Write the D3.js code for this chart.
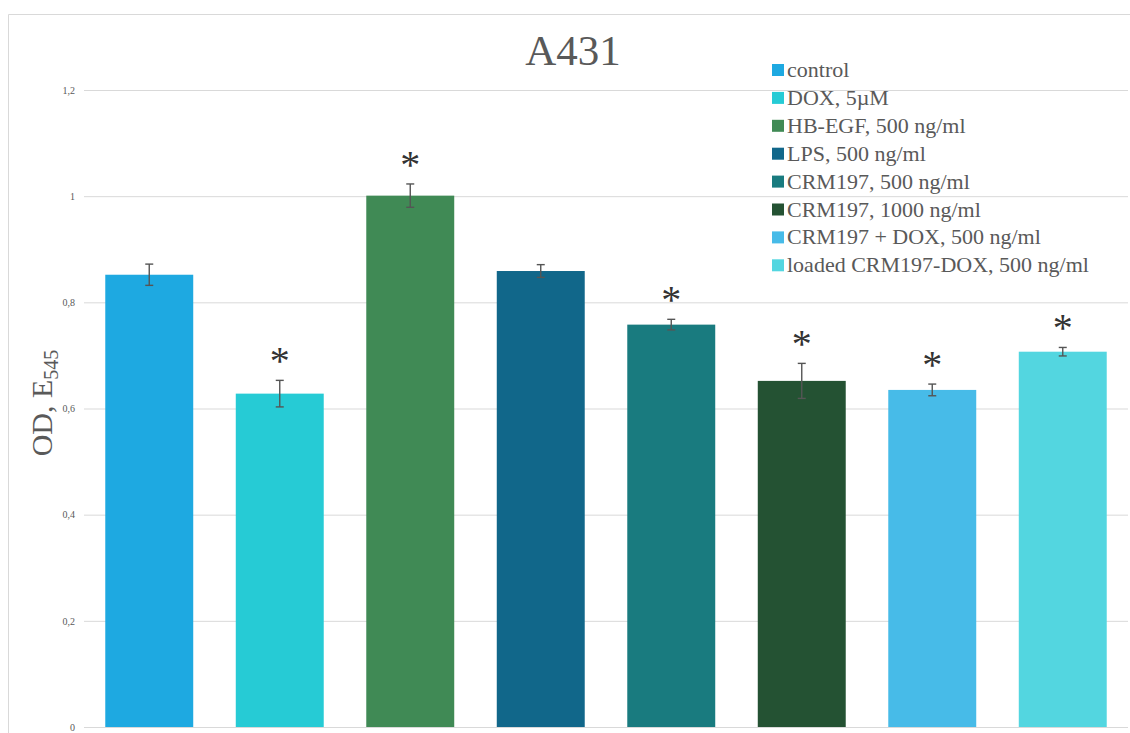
<!DOCTYPE html>
<html>
<head>
<meta charset="utf-8">
<script src="https://cdn.jsdelivr.net/npm/d3@7"></script>
<style>
  html, body { margin: 0; padding: 0; background: #fff; }
  svg { display: block; }
</style>
</head>
<body>
<svg id="chart" width="1130" height="733"></svg>
<script>
// Treatment groups, mean optical density and error half-widths
const categories = [
  "control",
  "DOX, 5\u00b5M",
  "HB-EGF, 500 ng/ml",
  "LPS, 500 ng/ml",
  "CRM197, 500 ng/ml",
  "CRM197, 1000 ng/ml",
  "CRM197 + DOX, 500 ng/ml",
  "loaded CRM197-DOX, 500 ng/ml"
];
const values = [0.852, 0.628, 1.001, 0.859, 0.758, 0.652, 0.635, 0.707];
const errors = [0.020, 0.025, 0.022, 0.012, 0.010, 0.033, 0.011, 0.008];
const significant = [false, true, true, false, true, true, true, true];
const colors = ["#1ea9e1", "#26cbd5", "#408a55", "#11678a", "#197b7f", "#245233", "#47bbe8", "#53d6e0"];
const yTicks = [0, 0.2, 0.4, 0.6, 0.8, 1.0, 1.2];
const yTickLabels = ["0", "0,2", "0,4", "0,6", "0,8", "1", "1,2"];

const svg = d3.select("#chart");
const W = 1130, H = 733;
const margin = { left: 84, right: 2, top: 90, bottom: 6 };
const serif = "'Liberation Serif', 'Times New Roman', serif";
const textColor = "#595959";

// Outer frame (left and top edges visible)
svg.append("path")
  .attr("d", `M8.5,${H} L8.5,14.5 L${W},14.5`)
  .attr("fill", "none")
  .attr("stroke", "#d9d9d9")
  .attr("stroke-width", 1);

const x = d3.scaleBand()
  .domain(categories)
  .range([margin.left, W - margin.right])
  .paddingInner(0.326)
  .paddingOuter(0.163);

const y = d3.scaleLinear()
  .domain([0, 1.2])
  .range([727, 90]);

// Horizontal gridlines + tick labels
const yAxis = d3.axisLeft(y)
  .tickValues(yTicks)
  .tickFormat((d, i) => yTickLabels[i])
  .tickSize(-(W - margin.right - margin.left))
  .tickPadding(9);

const gAxis = svg.append("g")
  .attr("transform", `translate(${margin.left},0)`)
  .call(yAxis);
gAxis.select(".domain").remove();
gAxis.selectAll(".tick line").attr("stroke", "#d9d9d9").attr("stroke-width", 1);
gAxis.selectAll(".tick text")
  .attr("fill", textColor)
  .style("font-family", serif)
  .style("font-size", "10px");

// Bars
svg.append("g").selectAll("rect")
  .data(categories)
  .join("rect")
  .attr("x", d => x(d))
  .attr("width", x.bandwidth())
  .attr("y", (d, i) => y(values[i]))
  .attr("height", (d, i) => y(0) - y(values[i]))
  .attr("fill", (d, i) => colors[i]);

// Error bars
const eb = svg.append("g").attr("stroke", "#555").attr("stroke-width", 1.4);
categories.forEach((c, i) => {
  const cx = x(c) + x.bandwidth() / 2;
  const top = y(values[i] + errors[i]);
  const bot = y(values[i] - errors[i]);
  eb.append("line").attr("x1", cx).attr("x2", cx).attr("y1", top).attr("y2", bot);
  eb.append("line").attr("x1", cx - 4).attr("x2", cx + 4).attr("y1", top).attr("y2", top);
  eb.append("line").attr("x1", cx - 4).attr("x2", cx + 4).attr("y1", bot).attr("y2", bot);
});

// Significance asterisks
svg.append("g").selectAll("text")
  .data(categories.filter((c, i) => significant[i]))
  .join("text")
  .attr("x", d => x(d) + x.bandwidth() / 2)
  .attr("y", d => {
    const i = categories.indexOf(d);
    return y(values[i] + errors[i]) - 6;
  })
  .attr("text-anchor", "middle")
  .attr("fill", "#333")
  .style("font-family", serif)
  .style("font-size", "40px")
  .text("*");

// Title
svg.append("text")
  .attr("x", 573)
  .attr("y", 65)
  .attr("text-anchor", "middle")
  .attr("fill", textColor)
  .style("font-family", serif)
  .style("font-size", "43px")
  .text("A431");

// Y axis title with subscript
const yTitle = svg.append("text")
  .attr("transform", "translate(52,403) rotate(-90)")
  .attr("text-anchor", "middle")
  .attr("fill", textColor)
  .style("font-family", serif)
  .style("font-size", "30px");
yTitle.append("tspan").text("OD, E");
yTitle.append("tspan").attr("dy", 6).style("font-size", "20px").text("545");

// Legend
const legend = svg.append("g").attr("transform", "translate(772,77)");
const rows = legend.selectAll("g")
  .data(categories)
  .join("g")
  .attr("transform", (d, i) => `translate(0,${i * 27.9})`);
rows.append("rect")
  .attr("x", 0).attr("y", -13)
  .attr("width", 12).attr("height", 12)
  .attr("fill", (d, i) => colors[i]);
rows.append("text")
  .attr("x", 15).attr("y", 0)
  .attr("fill", textColor)
  .style("font-family", serif)
  .style("font-size", "22px")
  .text(d => d);
</script>
</body>
</html>
